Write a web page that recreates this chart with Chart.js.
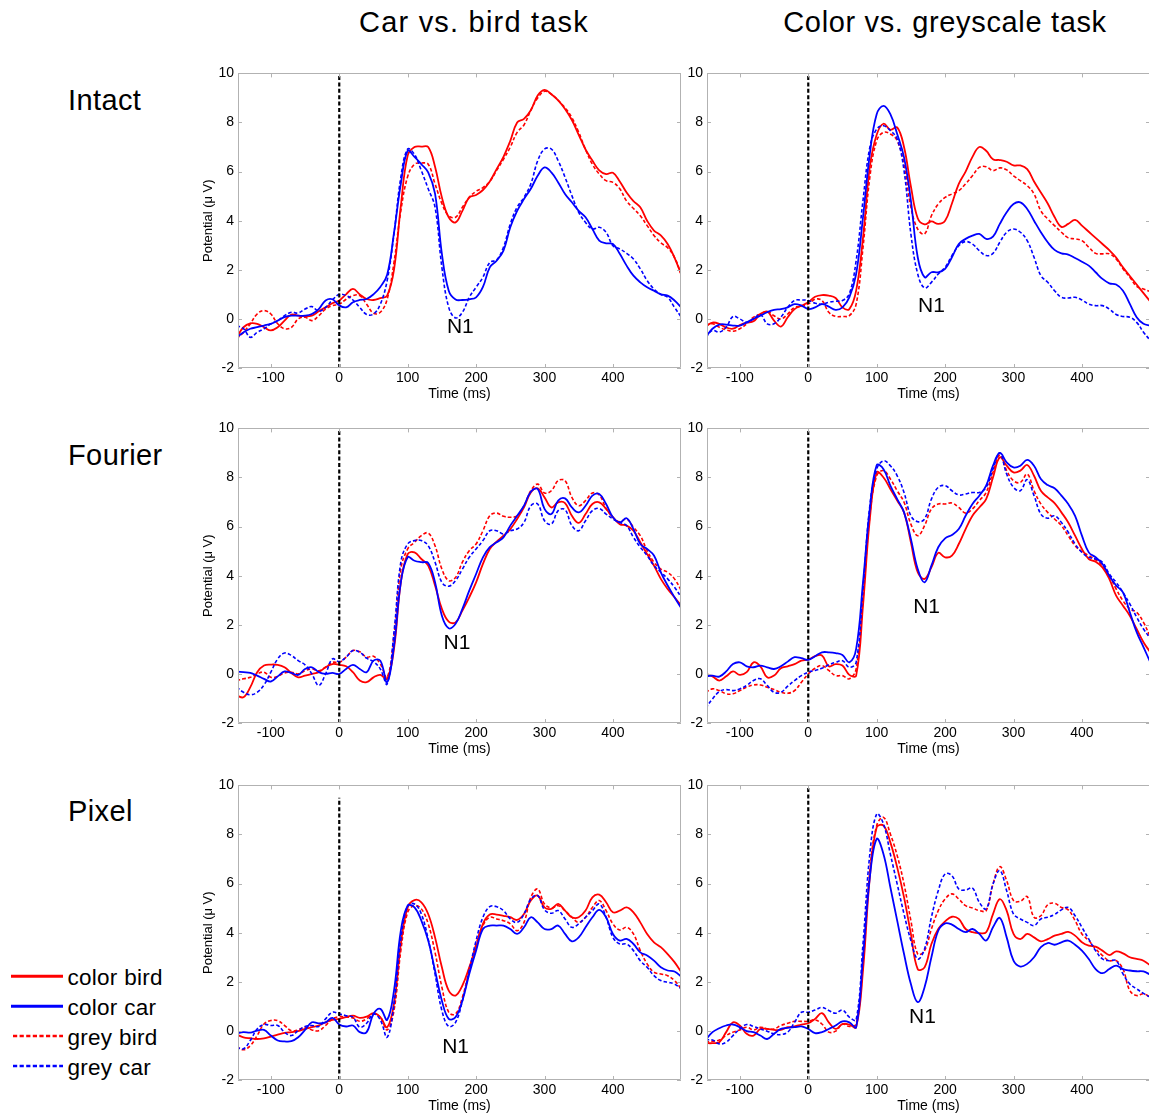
<!DOCTYPE html>
<html>
<head>
<meta charset="utf-8">
<title>ERP waveforms</title>
<script src="https://cdn.jsdelivr.net/npm/chart.js@4.4.1/dist/chart.umd.min.js"></script>
<style>
  html, body { margin: 0; padding: 0; background: #fff; }
  body { position: relative; width: 1149px; height: 1117px; overflow: hidden;
         font-family: "Liberation Sans", Arial, Helvetica, sans-serif; color: #000; }
  .txt { position: absolute; line-height: 1; white-space: nowrap; }
  .title { font-size: 29px; letter-spacing: 1.2px; width: 600px; text-align: center; }
  .title.narrow { letter-spacing: 0.65px; }
  .row { font-size: 29px; letter-spacing: 0.4px; }
  .leg { font-size: 22.5px; letter-spacing: 0.3px; }
  canvas { position: absolute; }
  svg.legline { position: absolute; left: 0; top: 0; overflow: visible; }
</style>
</head>
<body>

<div class="txt title" style="left:174px; top:7.5px;">Car vs. bird task</div>
<div class="txt title narrow" style="left:645px; top:7.5px;">Color vs. greyscale task</div>

<div class="txt row" style="left:68px; top:86.2px;">Intact</div>
<div class="txt row" style="left:68px; top:441.2px;">Fourier</div>
<div class="txt row" style="left:68px; top:797.2px;">Pixel</div>

<svg class="legline" width="70" height="1117">
  <line x1="11" y1="976.3" x2="63" y2="976.3" stroke="#ff0000" stroke-width="3"/>
  <line x1="11" y1="1006.3" x2="63" y2="1006.3" stroke="#0000ff" stroke-width="3"/>
  <line x1="13" y1="1036" x2="63" y2="1036" stroke="#ff0000" stroke-width="2.4" stroke-dasharray="4.2 2.4"/>
  <line x1="13" y1="1066" x2="63" y2="1066" stroke="#0000ff" stroke-width="2.4" stroke-dasharray="4.2 2.4"/>
</svg>
<div class="txt leg" style="left:67.4px; top:967px;">color bird</div>
<div class="txt leg" style="left:67.4px; top:997px;">color car</div>
<div class="txt leg" style="left:67.4px; top:1027px;">grey bird</div>
<div class="txt leg" style="left:67.4px; top:1056.5px;">grey car</div>

<script>
// ---------------------------------------------------------------------------
// Time base (ms) and grand-average potentials (µV), one array per condition.
// ---------------------------------------------------------------------------
const TIME_MS = [
  -150, -140, -130, -120, -110, -100, -90, -80, -70, -60,
  -50, -40, -30, -20, -10, 0, 10, 20, 30, 40,
  50, 60, 70, 80, 90, 100, 110, 120, 130, 140,
  150, 160, 170, 180, 190, 200, 210, 220, 230, 240,
  250, 260, 270, 280, 290, 300, 310, 320, 330, 340,
  350, 360, 370, 380, 390, 400, 410, 420, 430, 440,
  450, 460, 470, 480, 490, 500
];

const SERIES_NAMES = ['color bird', 'color car', 'grey bird', 'grey car'];

// Intact images, car vs. bird task
const intactCarBird_colorBird = [
  -0.75, -0.34, -0.18, -0.2, -0.34, -0.47, -0.34, -0.07, 0.18, 0.13,
  0.1, 0.13, 0.31, 0.47, 0.64, 0.75, 1.0, 1.22, 1.0, 0.81,
  0.77, 0.85, 0.95, 2.0, 4.6, 6.65, 7.0, 7.02, 7.0, 6.2,
  4.95, 4.14, 3.93, 4.4, 4.95, 5.05, 5.25, 5.6, 6.1, 6.6,
  7.25, 8.0, 8.15, 8.5, 9.1, 9.33, 9.15, 8.9, 8.55, 8.1,
  7.5, 6.9, 6.45, 6.05, 5.9, 5.95, 5.6, 5.15, 4.8, 4.55,
  4.0, 3.6, 3.4, 3.05, 2.5, 1.8
];
const intactCarBird_colorCar = [
  -0.75, -0.55, -0.4, -0.34, -0.27, -0.2, -0.07, 0.07, 0.13, 0.13,
  0.13, 0.2, 0.4, 0.75, 0.8, 0.55, 0.47, 0.68, 0.77, 0.81,
  1.0, 1.3, 1.8, 3.5, 5.5, 6.85, 6.6, 6.3, 5.97, 5.1,
  2.65, 1.15, 0.79, 0.77, 0.8, 0.88, 1.3, 2.1, 2.37, 2.78,
  3.73, 4.4, 4.88, 5.3, 5.83, 6.17, 5.97, 5.56, 5.09, 4.75,
  4.4, 4.14, 3.66, 3.19, 3.08, 3.05, 2.65, 2.17, 1.76, 1.49,
  1.29, 1.15, 1.0, 0.95, 0.75, 0.47
];
const intactCarBird_greyBird = [
  -0.8, -0.55, -0.2, 0.2, 0.34, 0.2, -0.2, -0.4, -0.35, 0.0,
  0.07, -0.07, 0.13, 0.4, 0.54, 0.6, 0.8, 0.95, 0.95, 0.6,
  0.23, 0.27, 0.8, 2.3, 4.4, 5.8, 6.3, 6.35, 6.3, 5.5,
  4.7, 4.2, 4.14, 4.55, 4.95, 5.2, 5.35, 5.6, 6.05, 6.5,
  7.0, 7.6, 7.9, 8.5, 9.0, 9.27, 9.15, 8.9, 8.6, 8.2,
  7.6, 6.9, 6.3, 5.9, 5.63, 5.56, 5.3, 4.8, 4.5, 4.2,
  3.8, 3.4, 3.1, 2.9, 2.5, 1.8
];
const intactCarBird_greyCar = [
  -0.27, -0.4, -0.75, -0.55, -0.4, -0.2, -0.07, 0.13, 0.27, 0.24,
  0.4, 0.5, 0.31, 0.47, 0.77, 1.0, 0.95, 0.77, 0.47, 0.18,
  0.2, 0.6, 1.56, 3.46, 5.77, 6.92, 6.7, 6.04, 5.3, 4.55,
  2.1, 0.47, 0.04, 0.27, 0.88, 1.29, 1.7, 2.3, 2.4, 2.92,
  3.87, 4.55, 4.95, 5.5, 6.44, 6.92, 6.92, 6.44, 5.77, 5.02,
  4.34, 3.93, 3.66, 3.73, 3.53, 2.98, 2.85, 2.67, 2.44, 2.04,
  1.56, 1.22, 1.0, 0.88, 0.47, 0.07
];

// Intact images, color vs. greyscale task
const intactColorGrey_colorBird = [
  -0.3, -0.15, -0.2, -0.35, -0.4, -0.25, -0.15, -0.1, 0.2, 0.3,
  -0.07, -0.31, 0.07, 0.4, 0.54, 0.68, 0.9, 0.97, 0.95, 0.85,
  0.47, 0.4, 1.15, 3.3, 6.2, 7.5, 7.95, 7.7, 7.8, 7.0,
  5.4, 4.1, 3.85, 3.97, 3.87, 4.0, 4.7, 5.5, 6.0, 6.6,
  7.0, 6.85, 6.5, 6.47, 6.4, 6.25, 6.25, 6.1, 5.6, 5.15,
  4.7, 4.15, 3.75, 3.87, 4.03, 3.8, 3.55, 3.3, 3.05, 2.8,
  2.5, 2.1, 1.75, 1.4, 1.05, 0.7
];
const intactColorGrey_colorCar = [
  -0.75, -0.4, -0.23, -0.23, -0.27, -0.27, -0.14, 0.0, 0.13, 0.27,
  0.37, 0.4, 0.47, 0.6, 0.54, 0.4, 0.47, 0.6, 0.5, 0.37,
  0.47, 0.88, 1.83, 4.14, 6.72, 8.34, 8.68, 8.34, 7.53, 6.58,
  4.82, 2.51, 1.7, 1.9, 1.9, 2.04, 2.51, 3.05, 3.26, 3.39,
  3.46, 3.26, 3.35, 3.87, 4.34, 4.68, 4.75, 4.48, 4.0, 3.53,
  3.12, 2.81, 2.67, 2.62, 2.48, 2.33, 2.17, 1.9, 1.63, 1.45,
  1.4, 1.15, 0.61, 0.07, -0.2, -0.27
];
const intactColorGrey_greyBird = [
  -0.27, -0.2, -0.34, -0.45, -0.5, -0.4, -0.2, 0.07, 0.2, 0.3,
  0.13, 0.0, 0.2, 0.47, 0.5, 0.6, 0.8, 0.75, 0.27, 0.1,
  0.1, 0.13, 0.6, 2.9, 5.77, 7.26, 7.6, 7.53, 7.26, 6.3,
  4.55, 3.66, 3.46, 4.2, 4.68, 4.95, 5.09, 5.22, 5.5, 5.83,
  6.17, 6.2, 6.04, 6.15, 6.07, 5.83, 5.63, 5.43, 5.09, 4.4,
  4.07, 3.8, 3.53, 3.3, 3.26, 3.19, 2.92, 2.67, 2.65, 2.65,
  2.44, 2.04, 1.7, 1.32, 1.22, 1.11
];
const intactColorGrey_greyCar = [
  -0.75, -0.47, -0.54, -0.34, 0.1, 0.0, -0.14, 0.0, 0.18, -0.2,
  -0.2, 0.07, 0.47, 0.75, 0.77, 0.75, 0.64, 0.6, 0.68, 0.72,
  0.75, 1.02, 2.37, 4.82, 6.99, 7.73, 7.87, 7.67, 7.33, 6.04,
  3.46, 1.83, 1.26, 1.49, 1.83, 2.1, 2.58, 2.98, 3.15, 3.05,
  2.78, 2.58, 2.67, 3.12, 3.53, 3.66, 3.53, 3.19, 2.51, 1.76,
  1.49, 1.15, 0.88, 0.85, 0.88, 0.77, 0.6, 0.54, 0.54, 0.4,
  0.18, 0.1, 0.07, -0.14, -0.54, -0.88
];

// Fourier-scrambled images, car vs. bird task
const fourierCarBird_colorBird = [
  -0.88, -0.95, -0.54, 0.07, 0.34, 0.38, 0.37, 0.27, 0.04, -0.14,
  -0.07, 0.0, 0.07, 0.27, 0.4, 0.37, 0.31, 0.07, -0.27, -0.34,
  -0.14, -0.04, -0.2, 1.02, 3.73, 4.88, 4.95, 4.68, 4.41, 3.6,
  2.65, 2.13, 2.1, 2.58, 3.12, 3.73, 4.48, 5.09, 5.39, 5.63,
  5.9, 6.31, 6.78, 7.39, 7.56, 7.19, 6.78, 6.99, 6.96, 6.44,
  6.15, 6.51, 6.92, 6.99, 6.72, 6.38, 6.1, 6.04, 5.83, 5.36,
  4.88, 4.41, 3.87, 3.46, 3.12, 2.78
];
const fourierCarBird_colorCar = [
  0.1, 0.07, 0.04, -0.07, -0.2, -0.31, -0.1, 0.1, 0.04, -0.04,
  0.2, 0.27, 0.07, 0.0, 0.04, 0.0, 0.2, 0.37, 0.2, 0.07,
  0.54, 0.54, -0.34, 1.15, 3.73, 4.75, 4.61, 4.55, 4.52, 3.73,
  2.37, 1.86, 2.04, 2.65, 3.39, 4.07, 4.75, 5.16, 5.36, 5.56,
  6.04, 6.44, 6.85, 7.42, 7.53, 6.72, 6.51, 7.06, 7.15, 6.78,
  6.58, 6.85, 7.26, 7.33, 6.92, 6.38, 6.17, 6.34, 5.9, 5.29,
  5.09, 4.82, 4.14, 3.6, 3.12, 2.67
];
const fourierCarBird_greyBird = [
  -0.27, -0.2, -0.14, 0.0, 0.07, -0.14, -0.1, 0.04, 0.07, 0.0,
  0.13, 0.2, 0.13, 0.27, 0.47, 0.47, 0.68, 0.95, 0.9, 0.68,
  0.72, 0.4, -0.14, 1.56, 4.27, 5.09, 5.36, 5.63, 5.74, 5.22,
  4.27, 3.8, 3.93, 4.55, 5.02, 5.29, 5.83, 6.44, 6.55, 6.42,
  6.38, 6.44, 6.85, 7.46, 7.73, 7.37, 7.46, 7.87, 7.87, 7.19,
  6.85, 7.06, 7.37, 7.29, 6.74, 6.38, 6.2, 6.31, 5.97, 5.63,
  5.02, 4.55, 4.27, 4.14, 3.87, 3.39
];
const fourierCarBird_greyCar = [
  -0.54, -0.75, -0.85, -0.75, -0.45, 0.07, 0.61, 0.85, 0.75, 0.54,
  0.37, 0.0, -0.47, 0.0, 0.61, 0.5, 0.68, 0.95, 0.88, 0.64,
  0.5, 0.2, -0.41, 1.7, 4.55, 5.29, 5.43, 5.43, 5.22, 4.55,
  3.73, 3.57, 3.8, 4.27, 4.75, 5.09, 5.43, 5.83, 5.83, 5.7,
  5.83, 5.9, 6.17, 6.85, 6.92, 6.24, 6.1, 6.65, 6.69, 6.04,
  5.83, 6.24, 6.65, 6.74, 6.51, 6.31, 6.17, 6.04, 5.56, 5.16,
  4.82, 4.41, 4.14, 3.87, 3.53, 3.12
];

// Fourier-scrambled images, color vs. greyscale task
const fourierColorGrey_colorBird = [
  0.0, -0.1, -0.27, -0.1, 0.1, -0.04, 0.07, 0.47, 0.31, -0.14,
  -0.07, 0.23, 0.31, 0.4, 0.54, 0.58, 0.72, 0.75, 0.31, 0.4,
  0.34, -0.04, -0.07, 2.78, 6.31, 8.21, 8.0, 7.53, 7.06, 6.58,
  5.36, 4.14, 3.87, 4.34, 4.93, 4.75, 4.82, 5.29, 5.9, 6.44,
  6.78, 7.12, 8.0, 8.82, 8.48, 8.21, 8.28, 8.51, 8.07, 7.46,
  7.19, 6.96, 6.58, 6.17, 5.63, 5.09, 4.68, 4.57, 4.34, 3.87,
  3.19, 2.78, 2.37, 1.83, 1.29, 0.88
];
const fourierColorGrey_colorCar = [
  -0.1, -0.07, -0.11, 0.1, 0.4, 0.47, 0.31, 0.27, 0.34, 0.27,
  0.2, 0.31, 0.5, 0.68, 0.64, 0.57, 0.72, 0.88, 0.88, 0.85,
  0.77, 0.47, 1.02, 3.73, 6.72, 8.5, 8.34, 7.67, 7.12, 6.58,
  5.5, 4.27, 3.73, 4.41, 5.16, 5.52, 5.66, 5.9, 6.44, 6.92,
  7.26, 7.67, 8.48, 9.0, 8.62, 8.41, 8.48, 8.72, 8.48, 7.94,
  7.69, 7.56, 7.26, 6.92, 6.44, 5.63, 4.95, 4.75, 4.48, 4.0,
  3.6, 3.32, 2.51, 1.7, 1.09, 0.47
];
const fourierColorGrey_greyBird = [
  -0.75, -0.61, -0.68, -0.81, -0.81, -0.68, -0.54, -0.45, -0.45, -0.54,
  -0.64, -0.75, -0.79, -0.68, -0.34, 0.0, 0.23, 0.34, 0.14, -0.07,
  -0.07, -0.2, 0.2, 3.05, 6.44, 8.07, 8.28, 7.94, 7.46, 6.99,
  6.1, 5.63, 6.04, 6.72, 6.92, 6.92, 6.96, 6.78, 6.55, 6.72,
  7.06, 7.39, 8.21, 8.91, 8.28, 7.87, 7.8, 8.14, 7.46, 6.92,
  6.58, 6.31, 6.04, 5.63, 5.22, 4.98, 4.82, 4.65, 4.41, 4.0,
  3.46, 2.98, 2.65, 2.51, 2.1, 1.49
];
const fourierColorGrey_greyCar = [
  -1.4, -1.02, -0.72, -0.64, -0.68, -0.61, -0.47, -0.27, -0.2, -0.47,
  -0.75, -0.75, -0.5, -0.27, -0.07, 0.07, 0.14, 0.23, 0.37, 0.47,
  0.54, 0.27, 0.47, 3.46, 6.85, 8.34, 8.68, 8.48, 8.07, 7.39,
  6.44, 6.2, 6.31, 7.12, 7.6, 7.67, 7.46, 7.29, 7.33, 7.39,
  7.39, 7.6, 8.34, 9.0, 8.14, 7.6, 7.46, 7.91, 7.26, 6.51,
  6.34, 6.44, 6.17, 5.77, 5.29, 4.95, 4.75, 4.68, 4.55, 4.07,
  3.73, 3.32, 2.85, 2.31, 1.83, 1.45
];

// Pixel-scrambled images, car vs. bird task
const pixelCarBird_colorBird = [
  -0.15, -0.26, -0.3, -0.33, -0.3, -0.23, -0.15, -0.08, -0.05, -0.01,
  0.08, 0.15, 0.22, 0.35, 0.45, 0.49, 0.56, 0.62, 0.53, 0.58,
  0.72, 0.56, 0.15, 1.1, 3.54, 5.03, 5.33, 5.24, 4.76, 3.81,
  2.59, 1.64, 1.44, 1.85, 2.59, 3.41, 4.36, 4.74, 4.74, 4.69,
  4.63, 4.52, 4.76, 5.31, 5.51, 5.03, 4.97, 5.17, 4.9, 4.63,
  4.63, 4.9, 5.44, 5.55, 5.24, 4.83, 4.9, 5.03, 4.83, 4.42,
  3.95, 3.61, 3.41, 3.13, 2.8, 2.39
];
const pixelCarBird_colorCar = [
  -0.1, -0.05, -0.07, 0.01, 0.04, -0.19, -0.39, -0.43, -0.42, -0.26,
  0.04, 0.35, 0.31, 0.35, 0.53, 0.26, 0.18, 0.22, -0.05, -0.05,
  0.69, 0.9, 0.45, 1.64, 4.08, 5.1, 5.03, 4.49, 3.68, 2.46,
  1.23, 0.49, 0.56, 1.23, 2.32, 3.27, 4.15, 4.29, 4.29, 4.29,
  4.15, 3.95, 4.22, 4.63, 4.42, 4.15, 4.15, 4.29, 3.95, 3.65,
  3.81, 4.22, 4.63, 4.93, 4.63, 3.95, 3.68, 3.75, 3.54, 3.2,
  3.07, 2.86, 2.59, 2.46, 2.42, 2.21
];
const pixelCarBird_greyBird = [
  -0.64, -0.77, -0.6, -0.19, 0.28, 0.42, 0.42, 0.22, 0.01, 0.04,
  0.15, 0.04, 0.01, 0.22, 0.49, 0.58, 0.56, 0.53, 0.39, 0.49,
  0.69, 0.56, 0.04, 0.83, 3.27, 4.83, 5.1, 4.97, 4.36, 3.2,
  1.78, 0.76, 0.69, 1.37, 2.46, 3.54, 4.29, 4.63, 4.56, 4.49,
  4.36, 4.08, 4.42, 5.44, 5.78, 5.17, 5.01, 5.1, 4.9, 4.63,
  4.42, 4.63, 5.03, 5.31, 4.9, 4.36, 4.11, 4.22, 3.95, 3.27,
  2.73, 2.39, 2.32, 2.25, 2.05, 1.71
];
const pixelCarBird_greyCar = [
  -0.66, -0.73, -0.39, 0.08, 0.26, 0.22, 0.22, -0.05, -0.19, 0.01,
  0.18, 0.22, 0.18, 0.49, 0.76, 0.69, 0.62, 0.56, 0.15, 0.31,
  0.69, 0.45, -0.26, 1.1, 3.74, 5.1, 5.17, 4.76, 3.74, 2.32,
  0.83, 0.18, 0.35, 1.23, 2.46, 3.68, 4.63, 5.06, 5.06, 4.9,
  4.56, 4.42, 4.76, 5.37, 5.51, 4.93, 4.79, 4.9, 4.56, 4.22,
  4.36, 4.63, 4.9, 5.17, 4.63, 3.81, 3.54, 3.54, 3.27, 2.86,
  2.59, 2.25, 2.05, 1.98, 1.91, 1.71
];

// Pixel-scrambled images, color vs. greyscale task
const pixelColorGrey_colorBird = [
  -0.5, -0.5, -0.46, -0.05, 0.35, 0.22, -0.12, -0.19, 0.08, 0.08,
  0.04, 0.04, 0.15, 0.18, 0.26, 0.31, 0.49, 0.72, 0.35, 0.08,
  0.28, 0.26, 0.15, 2.46, 6.26, 8.29, 8.36, 7.68, 6.66, 5.44,
  3.95, 2.52, 2.59, 3.54, 4.15, 4.46, 4.65, 4.56, 4.15, 4.02,
  3.98, 4.02, 4.76, 5.37, 4.9, 3.95, 3.74, 3.95, 3.81, 3.65,
  3.74, 3.88, 3.95, 4.03, 3.88, 3.61, 3.47, 3.43, 3.27, 3.09,
  3.24, 3.16, 3.0, 2.93, 2.86, 2.66
];
const pixelColorGrey_colorCar = [
  -0.37, -0.05, 0.11, 0.22, 0.26, 0.15, -0.01, -0.05, -0.19, -0.33,
  -0.12, 0.08, 0.12, 0.15, 0.18, 0.08, -0.09, -0.05, 0.08, 0.22,
  0.39, 0.35, 0.15, 3.0, 6.26, 7.82, 7.2, 5.85, 4.49, 3.13,
  1.91, 1.17, 1.78, 3.0, 4.08, 4.38, 4.33, 4.15, 4.02, 4.15,
  3.95, 3.68, 4.22, 4.6, 3.81, 2.86, 2.62, 2.73, 3.0, 3.41,
  3.58, 3.51, 3.61, 3.68, 3.51, 3.27, 2.93, 2.52, 2.35, 2.52,
  2.66, 2.52, 2.46, 2.43, 2.42, 2.29
];
const pixelColorGrey_greyBird = [
  -0.46, -0.42, -0.37, -0.19, -0.05, 0.04, 0.15, 0.04, 0.15, 0.08,
  0.08, 0.22, 0.31, 0.39, 0.39, 0.39, 0.45, 0.28, -0.05, -0.01,
  0.28, 0.18, 0.28, 2.73, 6.53, 8.36, 8.7, 8.02, 7.14, 5.98,
  4.49, 3.13, 3.27, 4.15, 4.9, 5.37, 5.58, 5.37, 5.1, 5.01,
  4.9, 4.9, 5.98, 6.69, 6.12, 5.31, 5.28, 5.47, 4.63, 4.69,
  5.14, 5.2, 5.03, 4.93, 4.49, 3.95, 3.68, 3.34, 3.07, 2.86,
  2.86, 2.52, 1.64, 1.44, 1.51, 1.37
];
const pixelColorGrey_greyCar = [
  -0.37, -0.37, -0.53, -0.46, -0.19, 0.08, 0.26, 0.18, 0.08, -0.01,
  -0.12, -0.15, -0.05, 0.35, 0.76, 0.76, 0.85, 0.96, 0.83, 0.72,
  0.85, 0.56, 0.45, 3.54, 7.2, 8.83, 8.43, 7.2, 5.98, 4.76,
  3.68, 2.93, 3.34, 4.63, 5.71, 6.39, 6.32, 5.78, 5.74, 5.82,
  5.24, 4.97, 5.98, 6.53, 5.71, 4.76, 4.56, 4.42, 4.29, 4.56,
  4.63, 4.74, 4.93, 5.03, 4.69, 4.22, 3.74, 3.27, 2.93, 2.86,
  2.86, 2.32, 1.91, 1.71, 1.53, 1.37
];

// Where the "N1" component is labelled in each panel (ms, µV)
const N1_TIME = [177, 180, 172, 173, 170, 167];
const N1_LEVEL = [-0.35, 0.51, 1.24, 2.7, -0.68, 0.55];

// Top end of the stimulus-onset marker in each panel (µV)
const ONSET_TOP = [10, 10, 10, 10, 9.5, 10];

// Axis ranges and tick steps
const X_MIN = -148, X_MAX = 499.5, X_STEP = 100;
const Y_MIN = -2, Y_MAX = 10, Y_STEP = 2;

// ---------------------------------------------------------------------------
// Layout of the 3 x 2 grid of axes (page pixels)
// ---------------------------------------------------------------------------
const PLOT_W = 443, PLOT_H = 295;
const AXIS_W = 50, AXIS_H = 40, PAD_T = 12, PAD_R = 8;
const COL_LEFT = [238, 707];
const ROW_TOP = [73, 428, 785];

const PANELS = [
  { row: 0, col: 0, series: [intactCarBird_colorBird, intactCarBird_colorCar, intactCarBird_greyBird, intactCarBird_greyCar] },
  { row: 0, col: 1, series: [intactColorGrey_colorBird, intactColorGrey_colorCar, intactColorGrey_greyBird, intactColorGrey_greyCar] },
  { row: 1, col: 0, series: [fourierCarBird_colorBird, fourierCarBird_colorCar, fourierCarBird_greyBird, fourierCarBird_greyCar] },
  { row: 1, col: 1, series: [fourierColorGrey_colorBird, fourierColorGrey_colorCar, fourierColorGrey_greyBird, fourierColorGrey_greyCar] },
  { row: 2, col: 0, series: [pixelCarBird_colorBird, pixelCarBird_colorCar, pixelCarBird_greyBird, pixelCarBird_greyCar] },
  { row: 2, col: 1, series: [pixelColorGrey_colorBird, pixelColorGrey_colorCar, pixelColorGrey_greyBird, pixelColorGrey_greyCar] }
];

// Line style per condition: color bird, color car, grey bird, grey car
const SERIES_STYLE = [
  { color: '#ff0000', dash: [] },
  { color: '#0000ff', dash: [] },
  { color: '#ff0000', dash: [3.6, 2.2] },
  { color: '#0000ff', dash: [3.6, 2.2] }
];
// Draw order: blue traces above red ones
const DRAW_ORDER = [1, 3, 0, 2];

const FONT = '"Liberation Sans", Arial, Helvetica, sans-serif';
Chart.defaults.font.family = FONT;
Chart.defaults.color = '#000';

// MATLAB-style axes box with inward tick marks on all four sides
const axesBox = {
  id: 'axesBox',
  afterDraw(chart) {
    const { ctx, chartArea: a, scales: { x, y } } = chart;
    const L = 4;
    ctx.save();
    ctx.strokeStyle = '#b2b2b2';
    ctx.lineWidth = 1;
    ctx.beginPath();
    ctx.rect(Math.round(a.left) + 0.5, Math.round(a.top) + 0.5,
             Math.round(a.right - a.left) - 1, Math.round(a.bottom - a.top) - 1);
    x.ticks.forEach(t => {
      const px = Math.round(x.getPixelForValue(t.value)) + 0.5;
      ctx.moveTo(px, a.bottom); ctx.lineTo(px, a.bottom - L);
      ctx.moveTo(px, a.top); ctx.lineTo(px, a.top + L);
    });
    y.ticks.forEach(t => {
      const py = Math.round(y.getPixelForValue(t.value)) + 0.5;
      ctx.moveTo(a.left, py); ctx.lineTo(a.left + L, py);
      ctx.moveTo(a.right, py); ctx.lineTo(a.right - L, py);
    });
    ctx.stroke();
    ctx.restore();
  }
};

// "N1" component label placed in data coordinates
const n1Label = {
  id: 'n1Label',
  afterDatasetsDraw(chart, args, opts) {
    const { ctx, scales: { x, y } } = chart;
    ctx.save();
    ctx.font = '21px ' + FONT;
    ctx.fillStyle = '#000';
    ctx.textAlign = 'center';
    ctx.textBaseline = 'middle';
    ctx.fillText('N1', x.getPixelForValue(opts.t), y.getPixelForValue(opts.v));
    ctx.restore();
  }
};

PANELS.forEach((p, i) => {
  const w = AXIS_W + PLOT_W + PAD_R;
  const h = PAD_T + PLOT_H + AXIS_H;
  const canvas = document.createElement('canvas');
  canvas.width = w;
  canvas.height = h;
  canvas.style.left = (COL_LEFT[p.col] - AXIS_W) + 'px';
  canvas.style.top = (ROW_TOP[p.row] - PAD_T) + 'px';
  canvas.style.width = w + 'px';
  canvas.style.height = h + 'px';
  document.body.appendChild(canvas);

  const datasets = [{
    label: 'onset',
    data: [{ x: 0, y: Y_MIN }, { x: 0, y: ONSET_TOP[i] }],
    borderColor: '#000',
    borderWidth: 2.2,
    borderDash: [4, 2.4],
    tension: 0
  }];
  DRAW_ORDER.forEach(k => {
    datasets.push({
      label: SERIES_NAMES[k],
      data: TIME_MS.map((t, j) => ({ x: t, y: p.series[k][j] })),
      borderColor: SERIES_STYLE[k].color,
      borderDash: SERIES_STYLE[k].dash,
      borderWidth: SERIES_STYLE[k].dash.length ? 1.6 : 1.8
    });
  });

  new Chart(canvas, {
    type: 'line',
    data: { datasets },
    options: {
      responsive: false,
      animation: false,
      devicePixelRatio: 1,
      layout: { padding: { top: PAD_T, right: PAD_R, left: 0, bottom: 0 } },
      elements: {
        point: { radius: 0, hoverRadius: 0 },
        line: { tension: 0.4, fill: false, borderCapStyle: 'butt' }
      },
      plugins: {
        legend: { display: false },
        tooltip: { enabled: false },
        n1Label: { t: N1_TIME[i], v: N1_LEVEL[i] }
      },
      events: [],
      scales: {
        x: {
          type: 'linear',
          min: X_MIN, max: X_MAX,
          grid: { display: false, drawTicks: false },
          border: { display: false },
          ticks: {
            stepSize: X_STEP, includeBounds: false, autoSkip: false, maxRotation: 0,
            padding: 2, color: '#000', font: { size: 14 }
          },
          title: {
            display: true, text: 'Time (ms)', color: '#000',
            font: { size: 14 }, padding: { top: 0, bottom: 5 }
          },
          afterFit(scale) { scale.height = AXIS_H; }
        },
        y: {
          type: 'linear',
          min: Y_MIN, max: Y_MAX,
          grid: { display: false, drawTicks: false },
          border: { display: false },
          ticks: { stepSize: Y_STEP, padding: 4, color: '#000', font: { size: 14 } },
          title: {
            display: p.col === 0, text: 'Potential (\u03bc V)', color: '#000',
            font: { size: 13 }, padding: { top: 12.7, bottom: 0 }
          },
          afterFit(scale) { scale.width = AXIS_W; }
        }
      }
    },
    plugins: [axesBox, n1Label]
  });
});
</script>
</body>
</html>
